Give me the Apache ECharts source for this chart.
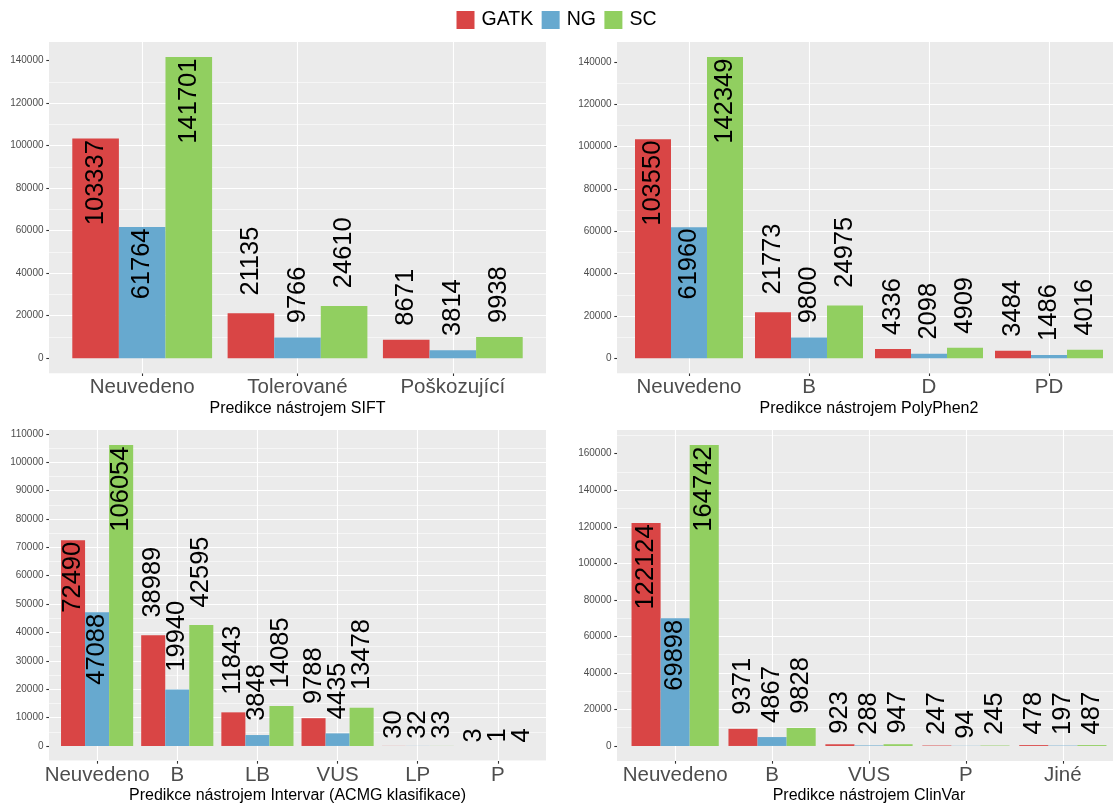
<!DOCTYPE html>
<html>
<head>
<meta charset="utf-8">
<script src="https://cdn.jsdelivr.net/npm/echarts@6/dist/echarts.min.js"></script>
<style>
  html, body { margin: 0; padding: 0; background: #ffffff; }
  #chart { width: 1113px; height: 806px; }
</style>
</head>
<body>
<div id="chart"></div>
<script>
// Variant counts per prediction class, for each of the three callers.
const callers = ['GATK', 'NG', 'SC'];

const siftCategories = ['Neuvedeno', 'Tolerované', 'Poškozující'];
const siftGATK = [103337, 21135, 8671];
const siftNG = [61764, 9766, 3814];
const siftSC = [141701, 24610, 9938];
const siftTicks = [0, 20000, 40000, 60000, 80000, 100000, 120000, 140000];

const polyphenCategories = ['Neuvedeno', 'B', 'D', 'PD'];
const polyphenGATK = [103550, 21773, 4336, 3484];
const polyphenNG = [61960, 9800, 2098, 1486];
const polyphenSC = [142349, 24975, 4909, 4016];
const polyphenTicks = [0, 20000, 40000, 60000, 80000, 100000, 120000, 140000];

const intervarCategories = ['Neuvedeno', 'B', 'LB', 'VUS', 'LP', 'P'];
const intervarGATK = [72490, 38989, 11843, 9788, 30, 3];
const intervarNG = [47088, 19940, 3848, 4435, 32, 1];
const intervarSC = [106054, 42595, 14085, 13478, 33, 4];
const intervarTicks = [0, 10000, 20000, 30000, 40000, 50000, 60000, 70000, 80000, 90000, 100000, 110000];

const clinvarCategories = ['Neuvedeno', 'B', 'VUS', 'P', 'Jiné'];
const clinvarGATK = [122124, 9371, 923, 247, 478];
const clinvarNG = [69898, 4867, 288, 94, 197];
const clinvarSC = [164742, 9828, 947, 245, 487];
const clinvarTicks = [0, 20000, 40000, 60000, 80000, 100000, 120000, 140000, 160000];

// ---- styling ----
const FONT = "'Liberation Sans', Arial, Helvetica, sans-serif";
const COLORS = ['#D94545', '#67A9CF', '#91CF60'];
const PANEL_BG = '#EBEBEB';
const LABEL_SIZE = 25.5;
const TALL_BAR = 45000;   // labels of taller bars sit inside the bar

const panels = [
  { title: 'Predikce nástrojem SIFT', categories: siftCategories,
    values: [siftGATK, siftNG, siftSC], ticks: siftTicks,
    box: { left: 49, top: 42, width: 497, height: 331.3 } },
  { title: 'Predikce nástrojem PolyPhen2', categories: polyphenCategories,
    values: [polyphenGATK, polyphenNG, polyphenSC], ticks: polyphenTicks,
    box: { left: 617, top: 42, width: 504, height: 331.3 } },
  { title: 'Predikce nástrojem Intervar (ACMG klasifikace)', categories: intervarCategories,
    values: [intervarGATK, intervarNG, intervarSC], ticks: intervarTicks,
    box: { left: 49, top: 430, width: 497, height: 331 } },
  { title: 'Predikce nástrojem ClinVar', categories: clinvarCategories,
    values: [clinvarGATK, clinvarNG, clinvarSC], ticks: clinvarTicks,
    box: { left: 617, top: 430, width: 504, height: 331 } }
];

function valueLabel(v) {
  const tall = v > TALL_BAR;
  const textWidth = String(v).length * 0.556 * LABEL_SIZE;
  return {
    show: true,
    rotate: 90,
    position: tall ? 'insideTop' : 'top',
    align: tall ? 'right' : 'left',
    verticalAlign: 'middle',
    distance: tall ? 1.5 : 0.25 * textWidth,
    fontSize: LABEL_SIZE,
    fontFamily: FONT,
    color: '#000000'
  };
}

const grids = [], xAxes = [], yAxes = [], series = [];

panels.forEach((p, k) => {
  const peak = Math.max(...p.values.flat());
  const lo = -0.05 * peak, hi = 1.05 * peak;
  const step = p.ticks[1] - p.ticks[0];
  const n = p.categories.length;
  const unit = p.box.width / (n + 0.2);
  const gBack = 2 * k, gBars = 2 * k + 1;

  // panel background with the value scale and horizontal grid
  grids.push({ left: p.box.left, top: p.box.top, width: p.box.width, height: p.box.height,
    show: true, backgroundColor: PANEL_BG, borderWidth: 0 });
  // bar area, inset so category centres follow a discrete scale with padding
  grids.push({ left: p.box.left + 0.1 * unit, top: p.box.top, width: n * unit, height: p.box.height });

  xAxes.push({ gridIndex: gBack, type: 'value', min: 0, max: 1, show: false });
  xAxes.push({
    gridIndex: gBars, type: 'category', data: p.categories,
    axisLine: { show: false, onZero: false },
    axisTick: { show: true, alignWithLabel: true, length: 2.7, lineStyle: { color: '#333333', width: 1.1 } },
    axisLabel: { interval: 0, fontSize: 20.5, color: '#4D4D4D', margin: 4, fontFamily: FONT },
    splitLine: { show: false },
    name: p.title, nameLocation: 'middle', nameGap: 27,
    nameTextStyle: { fontSize: 16, color: '#000000', fontFamily: FONT }
  });

  yAxes.push({
    gridIndex: gBack, type: 'value', min: lo, max: hi,
    minInterval: step, maxInterval: step,
    axisLine: { show: false },
    axisTick: { show: true, length: 2.7, customValues: p.ticks, lineStyle: { color: '#333333', width: 1.1 } },
    axisLabel: { customValues: p.ticks, formatter: v => String(Math.round(v)),
      fontSize: 10, color: '#4D4D4D', margin: 5.5, fontFamily: FONT },
    splitLine: { show: true, showMinLine: false, showMaxLine: false, lineStyle: { color: '#FFFFFF', width: 1.1 } },
    minorTick: { show: false, splitNumber: 2 },
    minorSplitLine: { show: true, lineStyle: { color: '#FFFFFF', width: 0.55 } }
  });
  yAxes.push({ gridIndex: gBars, type: 'value', min: lo, max: hi, show: false, splitLine: { show: false } });

  callers.forEach((name, s) => {
    const item = {
      type: 'bar', name,
      xAxisIndex: gBars, yAxisIndex: gBars,
      barGap: '0%', barCategoryGap: '10%',
      itemStyle: { color: COLORS[s] },
      data: p.values[s].map(v => ({ value: v, label: valueLabel(v) }))
    };
    if (s === 1) {
      // vertical grid lines through the category centres (the middle bar is centred)
      item.markLine = {
        silent: true, symbol: 'none', z: 1, animation: false,
        label: { show: false },
        lineStyle: { color: '#FFFFFF', width: 1.1, type: 'solid' },
        emphasis: { disabled: true },
        data: p.categories.map(c => ({ xAxis: c }))
      };
    }
    series.push(item);
  });
});

const chart = echarts.init(document.getElementById('chart'), null, { renderer: 'canvas' });
chart.setOption({
  animation: false,
  backgroundColor: '#FFFFFF',
  textStyle: { fontFamily: FONT },
  legend: {
    data: callers, top: 5, left: 'center',
    icon: 'rect', itemWidth: 18, itemHeight: 18, itemGap: 8.5,
    selectedMode: false,
    textStyle: { fontSize: 19.5, color: '#000000', fontFamily: FONT, padding: [0, 0, 0, 2] }
  },
  grid: grids,
  xAxis: xAxes,
  yAxis: yAxes,
  series: series
});
</script>
</body>
</html>
